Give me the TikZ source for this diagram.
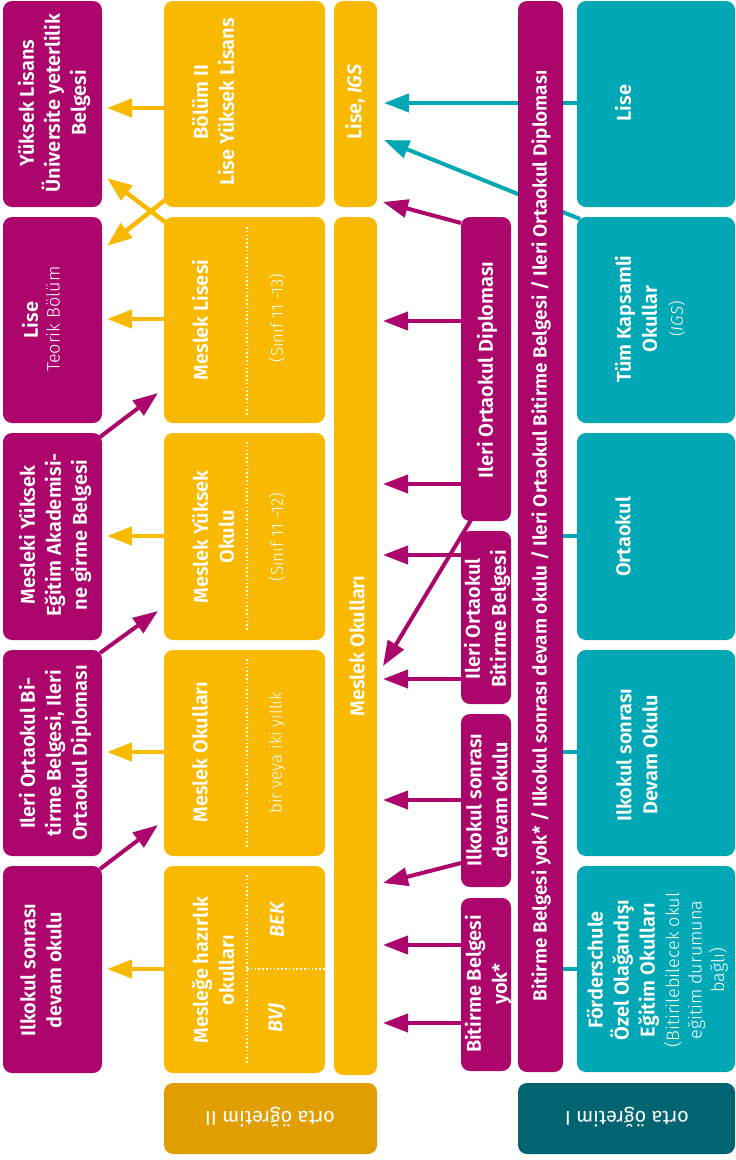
\documentclass[tikz,border=0pt]{standalone}
\usepackage{fontspec}
\setmainfont{Fira Sans}[BoldFont={Fira Sans SemiBold}, BoldItalicFont={Fira Sans SemiBold Italic}]
\newfontfamily\lightf{Fira Sans Light}
\usetikzlibrary{arrows.meta}
\definecolor{purp}{HTML}{AC066C}
\definecolor{orng}{HTML}{F9B900}
\definecolor{dorng}{HTML}{E09E00}
\definecolor{teal1}{HTML}{00A7B5}
\definecolor{dteal}{HTML}{006570}
\newcommand\mkbox[6]{\node[#1, anchor=north west, minimum width={(#5-#3)*1pt}, minimum height={(#6-#4)*1pt}] (#2) at (#3,#4) {};}
\begin{document}
\begin{tikzpicture}[x=1pt,y=-1pt,
  box/.style={rectangle, draw=none, inner sep=0pt, outer sep=0pt, rounded corners=9pt},
  pb/.style={box, fill=purp},
  ob/.style={box, fill=orng},
  tb/.style={box, fill=teal1},
  tw/.style={text=white, rotate=90, align=center, inner sep=0pt, font=\bfseries\fontsize{20}{26}\selectfont},
  ts/.style={text=white, rotate=90, align=center, inner sep=0pt, font=\lightf\fontsize{17}{22}\selectfont},
  oarr/.style={draw=orng, line width=4.5pt, -{Triangle[length=25pt,width=18pt]}},
  parr/.style={draw=purp, line width=4pt, -{Triangle[length=25pt,width=18pt]}},
  tarr/.style={draw=teal1, line width=4pt, -{Triangle[length=25pt,width=18pt]}},
  tcon/.style={draw=teal1, line width=3.5pt},
  dots/.style={draw=white, line width=1.6pt, dash pattern=on 1.6pt off 2.2pt}
]
\useasboundingbox (0,0) rectangle (736,1160);
% left purple column
\mkbox{pb}{yl}{3}{1}{102}{207}
\mkbox{pb}{lt}{3}{217}{102}{423}
\mkbox{pb}{my}{3}{433}{102}{640}
\mkbox{pb}{io}{3}{650}{102}{856}
\mkbox{pb}{ik}{3}{866}{102}{1073}
% orange column
\mkbox{ob}{bolum}{164}{1}{325}{207}
\mkbox{ob}{mlis}{164}{217}{325}{423}
\mkbox{ob}{myo}{164}{433}{325}{640}
\mkbox{ob}{mok}{164}{650}{325}{856}
\mkbox{ob}{mha}{164}{866}{325}{1073}
\mkbox{ob}{ligs}{334}{1}{377}{207}
\mkbox{ob}{mbar}{334}{217}{377}{1075}
% small purple column
\mkbox{pb}{dip}{461}{217}{511}{521}
\mkbox{pb}{bit}{461}{531}{511}{704}
\mkbox{pb}{ilk}{461}{714}{511}{887}
\mkbox{pb}{yok}{461}{898}{511}{1071}
% teal column
\mkbox{tb}{tlise}{577}{1}{735}{207}
\mkbox{tb}{tks}{577}{217}{735}{423}
\mkbox{tb}{tort}{577}{433}{735}{640}
\mkbox{tb}{tilk}{577}{650}{735}{856}
\mkbox{tb}{tfor}{577}{866}{735}{1072}
% bottom labels
\mkbox{box, fill=dorng}{lab2}{164}{1083}{377}{1154}
\mkbox{box, fill=dteal}{lab1}{518}{1083}{735}{1154}

% teal arrows (behind the purple bar)
\coordinate (t1) at (384,103);
\coordinate (t2) at (384,140);
\coordinate (t2s) at (580,219);
\draw[tarr] (tlise.west |- 0,103) -- (t1);
\draw[tarr] (t2s) -- (t2);

% long purple bar
\mkbox{pb}{bar}{518}{1}{563}{1072}

% teal connectors
\draw[tcon] (bar.east |- 0,536) -- (tort.west |- 0,536);
\draw[tcon] (bar.east |- 0,752) -- (tilk.west |- 0,752);
\draw[tcon] (bar.east |- 0,969) -- (tfor.west |- 0,969);

% dotted lines
\draw[dots] (247,227) -- (247,415);
\draw[dots] (247,442) -- (247,630);
\draw[dots] (247,659) -- (247,847);
\draw[dots] (247,875) -- (247,1065);
\draw[dots] (247,969) -- (325,969);

% orange arrows
\draw[oarr, shorten >=5pt] (bolum.west |- 0,108) -- (yl.east |- 0,108);
\draw[oarr, shorten >=5pt] (mlis.west |- 0,319) -- (lt.east |- 0,319);
\draw[oarr, shorten >=5pt] (myo.west |- 0,536) -- (my.east |- 0,536);
\draw[oarr, shorten >=5pt] (mok.west |- 0,752) -- (io.east |- 0,752);
\draw[oarr, shorten >=5pt] (mha.west |- 0,969) -- (ik.east |- 0,969);
\coordinate (c1s) at (165,200); \coordinate (c1e) at (107,246);
\coordinate (c2s) at (165,222); \coordinate (c2e) at (107,178);
\draw[oarr] (c1s) -- (c1e);
\draw[oarr] (c2s) -- (c2e);

% purple arrows left
\coordinate (p1s) at (100,653); \coordinate (p1e) at (158,611);
\coordinate (p2s) at (100,437); \coordinate (p2e) at (158,393);
\coordinate (p3s) at (100,869); \coordinate (p3e) at (158,825);
\draw[parr] (p1s) -- (p1e);
\draw[parr] (p2s) -- (p2e);
\draw[parr] (p3s) -- (p3e);

% purple arrows right
\coordinate (q1) at (383,202);
\coordinate (q2) at (383,666);
\coordinate (q3) at (383,883);
\draw[parr] (dip.west |- 0,223) -- (q1);
\draw[parr, shorten >=6pt] (dip.west |- 0,321) -- (mbar.east |- 0,321);
\draw[parr, shorten >=6pt] (dip.west |- 0,484) -- (mbar.east |- 0,484);
\draw[parr] (471,520) -- (q2);
\draw[parr, shorten >=6pt] (bit.west |- 0,555) -- (mbar.east |- 0,555);
\draw[parr, shorten >=6pt] (bit.west |- 0,679) -- (mbar.east |- 0,679);
\draw[parr, shorten >=6pt] (ilk.west |- 0,800) -- (mbar.east |- 0,800);
\draw[parr] (ilk.west |- 0,863) -- (q3);
\draw[parr, shorten >=6pt] (yok.west |- 0,945) -- (mbar.east |- 0,945);
\draw[parr, shorten >=6pt] (yok.west |- 0,1023) -- (mbar.east |- 0,1023);

% texts: left purple
\node[tw] (tyl) at (54,103) {Yüksek Lisans\\Üniversite yeterlilik\\Belgesi};
\node[tw] (tlt) at (30,320) {Lise};
\node[ts, font=\lightf\fontsize{18}{22}\selectfont] (tlt2) at (53,319) {Teorik Bölüm};
\node[tw] (tmy) at (55,535) {Mesleki Yüksek\\Eğitim Akademisi-\\ne girme Belgesi};
\node[tw] (tio) at (55,753) {Ileri Ortaokul Bi-\\tirme Belgesi, Ileri\\Ortaokul Diploması};
\node[tw] (tik) at (41,970) {Ilkokul sonrası\\devam okulu};
% orange
\node[tw] (tbolum) at (213,102) {Bölüm II\\Lise Yüksek Lisans};
\node[tw] (tmlis) at (200,320) {Meslek Lisesi};
\node[ts] (tmlis2) at (277,318) {(Sınıf 11 -13)};
\node[tw] (tmyo) at (213,537) {Meslek Yüksek\\Okulu};
\node[ts] (tmyo2) at (277,537) {(Sınıf 11 -12)};
\node[tw] (tmok) at (200,752) {Meslek Okulları};
\node[ts] (tmok2) at (277,753) {bir veya iki yıllık};
\node[tw] (tmha) at (213,970) {Mesleğe hazırlık\\okulları};
\node[tw] (tbek) at (277,920) {\itshape BEK};
\node[tw] (tbvj) at (277,1018) {\itshape BVJ};
\node[tw] (tligs) at (355,102) {Lise, \itshape IGS};
\node[tw] (tmbar) at (357,646) {Meslek Okulları};
% small purple
\node[tw] (tdip) at (487,370) {Ileri Ortaokul Diploması};
\node[tw] (tbit) at (487,619) {Ileri Ortaokul\\Bitirme Belgesi};
\node[tw] (tilk) at (487,800) {Ilkokul sonrası\\devam okulu};
\node[tw] (tyok) at (488,984) {Bitirme Belgesi\\yok*};
\node[tw, font=\bfseries\fontsize{19}{24}\selectfont] (tbar) at (541,536) {Bitirme Belgesi yok* / Ilkokul sonrası devam okulu / Ileri Ortaokul Bitirme Belgesi / Ileri Ortaokul Diploması};
% teal
\node[tw] (ttlise) at (623,103) {Lise};
\node[tw] (ttks) at (636,319) {Tüm Kapsamli\\Okullar};
\node[ts] (ttks2) at (677,319) {(\itshape IGS\/\upshape)};
\node[tw] (ttort) at (623,537) {Ortaokul};
\node[tw] (ttilk) at (637,755) {Ilkokul sonrası\\Devam Okulu};
\node[tw] (ttfor) at (623,970) {Förderschule\\Özel Olağandışı\\Eğitim Okulları};
\node[ts, font=\lightf\fontsize{18}{22.5}\selectfont] (ttfor2) at (696,970) {(Bitirilebilecek okul\\eğitim durumuna\\bağlı)};
% bottom labels
\node[text=white, rotate=180, inner sep=0pt, font=\fontsize{20}{24}\selectfont] (tlab2) at (270,1117) {orta öğretim II};
\node[text=white, rotate=180, inner sep=0pt, font=\fontsize{20}{24}\selectfont] (tlab1) at (627,1117) {orta öğretim I};
\end{tikzpicture}
\end{document}
